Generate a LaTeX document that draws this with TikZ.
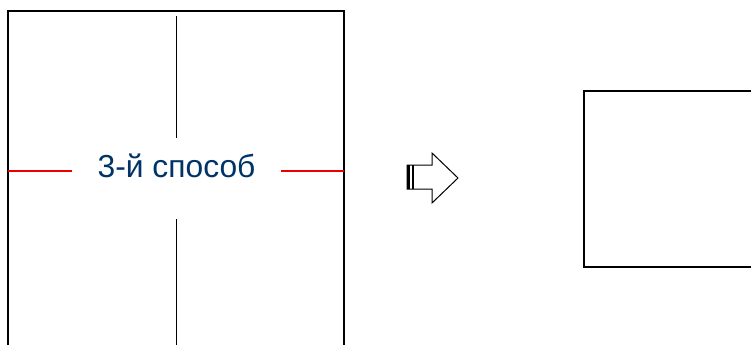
\documentclass[tikz,border=0pt]{standalone}
\usepackage{fontspec}
\setmainfont{Liberation Sans}
\definecolor{txtblue}{RGB}{0,51,102}
\definecolor{cutred}{RGB}{235,0,0}
\begin{document}
\begin{tikzpicture}[x=1pt,y=-1pt,
  frame/.style={line width=1.7pt,black},
  fold/.style={line width=1.6pt,black},
  cut/.style={line width=1.5pt,cutred},
  arrowshape/.style={line width=1pt,black,line join=miter}]
\useasboundingbox (0,0) rectangle (751,345);
% left sheet
\draw[frame] (8,345) -- (8,11) -- (344,11) -- (344,345);
% fold line
\coordinate (ft) at (176.5,16);
\coordinate (fm1) at (176.5,138);
\coordinate (fm2) at (176.5,219);
\coordinate (fb) at (176.5,345);
\draw[fold] (ft) -- (fm1);
\draw[fold] (fm2) -- (fb);
% red cut lines
\coordinate (cl1) at (8,171);
\coordinate (cl2) at (72,171);
\coordinate (cr1) at (281,171);
\coordinate (cr2) at (344,171);
\draw[cut] (cl1) -- (cl2);
\draw[cut] (cr1) -- (cr2);
\node[text=txtblue,font=\fontsize{31.8}{38}\selectfont,inner sep=0pt] (lbl) at (176.5,166) {3-й способ};
% arrow
\draw[arrowshape,fill=white] (407,165) -- (432,165) -- (432,153) -- (458,178) -- (432,203) -- (432,189) -- (407,189) -- cycle;
\draw[line width=2.6pt] (408.5,165) -- (408.5,189);
\draw[line width=1.4pt] (413,165) -- (413,189);
% right sheet
\draw[frame] (751,91) -- (584,91) -- (584,267) -- (751,267);
\end{tikzpicture}
\end{document}
